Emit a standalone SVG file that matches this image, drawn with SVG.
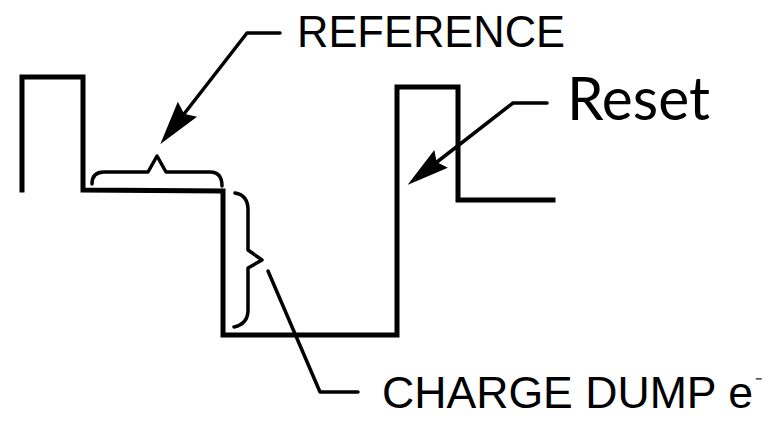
<svg xmlns="http://www.w3.org/2000/svg" width="769" height="424" viewBox="0 0 769 424">
<style>
.wave{fill:none;stroke:#000;stroke-width:5;stroke-linejoin:miter;stroke-linecap:square}
.brace{fill:none;stroke:#000;stroke-width:3.5;stroke-linecap:round;stroke-linejoin:round}
.lead{fill:none;stroke:#000;stroke-width:3.5;stroke-linecap:round;stroke-linejoin:round}
.lbl{font-family:"Liberation Sans",Arial,Helvetica,sans-serif;fill:#000}
.reset{font-family:Lato,"Open Sans",sans-serif;fill:#000}
</style>
<rect width="769" height="424" fill="#fff"/>
<g id="waveform">
<path class="wave" d="M22,190 L22,77 L83,77 L83,190 L223,191 L223,335 L397,335 L397,87 L458,87 L458,200 L553,200"/>
</g>
<g id="reference-brace">
<path class="brace" d="M92,184 Q92,172 104,172 L148,172 L157,156 L166,172 L210,172 Q222,172 222,186"/>
</g>
<g id="charge-brace">
<path class="brace" d="M235,193 Q248,195 248,210 L248,250 L262,260 L248,268 L248,310 Q248,324 234,327"/>
</g>
<g id="connectors">
<path class="lead" d="M280,33 L247,33 L184,114"/>
<path d="M162,142 L195.3,117.2 L183.5,114.4 L177.9,103.6 Z" fill="#000" stroke="#000" stroke-width="1.5" stroke-linejoin="miter"/>
<path class="lead" d="M547,103 L513,103 L437,162"/>
<path d="M410,183 L446.1,167.6 L436.1,162.8 L433.9,151.8 Z" fill="#000" stroke="#000" stroke-width="1.5" stroke-linejoin="miter"/>
<path class="lead" d="M268,271 L320,392 L358,392"/>
</g>
<g id="label-reference">
<text class="lbl" x="297" y="47" font-size="44" textLength="268" lengthAdjust="spacingAndGlyphs">REFERENCE</text>
</g>
<g id="label-reset">
<text class="reset" x="567" y="120" font-size="60" textLength="143" lengthAdjust="spacingAndGlyphs">Reset</text>
</g>
<g id="label-charge">
<text class="lbl" x="382" y="408" font-size="44" textLength="371" lengthAdjust="spacingAndGlyphs">CHARGE DUMP e</text>
<text class="lbl" x="755" y="392" font-size="22">⁻</text>
</g>
</svg>
